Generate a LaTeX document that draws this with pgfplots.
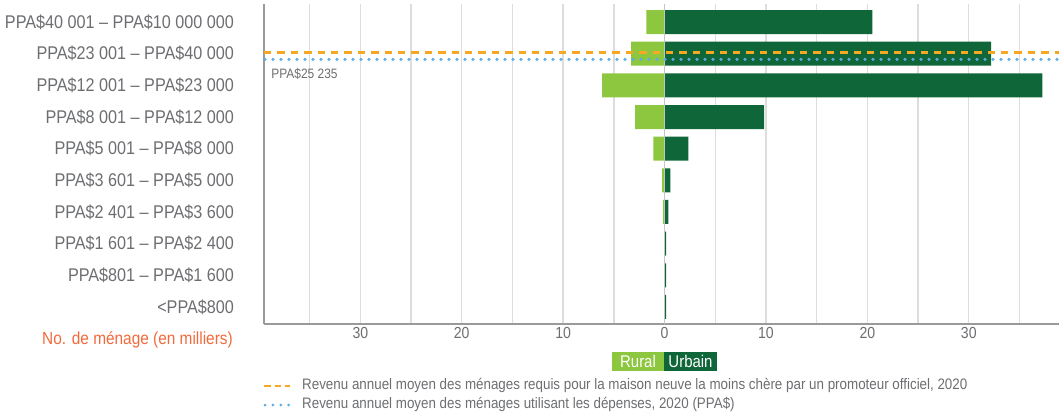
\documentclass[border=0pt]{standalone}
\usepackage{pgfplots}
\pgfplotsset{compat=1.18}
\usepackage{fontspec}
\setmainfont{Liberation Sans}[FakeStretch=0.88]
\definecolor{dkgreen}{HTML}{0F6639}
\definecolor{ltgreen}{HTML}{8DC63F}
\definecolor{orgc}{HTML}{F7A823}
\definecolor{bluc}{HTML}{5DADE2}
\definecolor{txtg}{HTML}{6D6E71}
\definecolor{redo}{HTML}{F26A3C}
\definecolor{gridg}{HTML}{DDDDDD}
\definecolor{axg}{HTML}{9A9A9A}
\definecolor{zerog}{HTML}{C4C4C4}
\begin{document}
\begin{tikzpicture}
\begin{axis}[
  at={(264pt,-324pt)}, anchor=south west,
  scale only axis, width=795pt, height=320pt,
  xmin=-39.5, xmax=38.9, ymin=-0.54, ymax=9.57,
  clip=false,
  axis x line*=bottom, axis y line*=left,
  axis line style={draw=axg, line width=1.2pt, -},
  xtick={-30,-20,...,30}, xticklabels={30,20,10,0,10,20,30},
  minor xtick={-35,-25,...,35},
  xmajorgrids, xminorgrids,
  major grid style={draw=gridg, line width=1.3pt},
  minor grid style={draw=gridg, line width=1.3pt},
  major tick length=0pt, minor tick length=0pt,
  ytick={0,...,9},
  yticklabels={{<PPA\$800},{PPA\$801 – PPA\$1 600},{PPA\$1 601 – PPA\$2 400},{PPA\$2 401 – PPA\$3 600},{PPA\$3 601 – PPA\$5 000},{PPA\$5 001 – PPA\$8 000},{PPA\$8 001 – PPA\$12 000},{PPA\$12 001 – PPA\$23 000},{PPA\$23 001 – PPA\$40 000},{PPA\$40 001 – PPA\$10 000 000}},
  yticklabel style={anchor=east, xshift=-26.5pt, font=\fontsize{18.4}{20}\selectfont, text=txtg},
  xticklabel style={font=\fontsize{16}{18}\selectfont, text=txtg},
  /pgf/number format/assume math mode=true,
]
\addplot[xbar, bar width=24pt, bar shift=0pt, fill=ltgreen, draw=none] coordinates {
(0,0) (-0.03,1) (-0.03,2) (-0.13,3) (-0.25,4) (-1.1,5) (-2.9,6) (-6.15,7) (-3.3,8) (-1.8,9)};
\addplot[xbar, bar width=24pt, bar shift=0pt, fill=dkgreen, draw=none] coordinates {
(0.15,0) (0.15,1) (0.15,2) (0.37,3) (0.57,4) (2.35,5) (9.83,6) (37.25,7) (32.2,8) (20.5,9)};
\draw[zerog, line width=1pt] (axis cs:0,-0.54) -- (axis cs:0,9.57);
\draw[orgc, line width=3pt, dash pattern=on 7.3pt off 6.1pt] (axis cs:-39.5,8.03) -- (axis cs:38.9,8.03);
\draw[bluc, line width=3.5pt, line cap=round, dash pattern=on 0pt off 8pt] (axis cs:-39.4,7.82) -- (axis cs:38.9,7.82);
\node[anchor=west, inner sep=0pt, text=txtg, font=\fontsize{13.6}{15}\selectfont] at (axis cs:-38.8,7.37) {PPA\$25 235};
\end{axis}
\node[anchor=east, inner sep=0pt, text=redo, font=\fontsize{17.5}{20}\selectfont] at (233pt,-340pt) {No. de ménage (en milliers)};
\fill[ltgreen] (612pt,-352pt) rectangle (664pt,-371pt);
\fill[dkgreen] (664pt,-352pt) rectangle (717pt,-371pt);
\node[text=white, inner sep=0pt, font=\fontsize{17}{19}\selectfont] at (638pt,-361.5pt) {Rural};
\node[text=white, inner sep=0pt, font=\fontsize{17}{19}\selectfont] at (690.5pt,-361.5pt) {Urbain};
\draw[orgc, line width=2.5pt, dash pattern=on 6.5pt off 4pt] (264pt,-386pt) -- (290pt,-386pt);
\draw[bluc, line width=3pt, line cap=round, dash pattern=on 0pt off 7.9pt] (265pt,-405pt) -- (291pt,-405pt);
\node[anchor=west, inner sep=0pt, text=txtg, font=\fontsize{15.2}{17}\selectfont] at (302pt,-385.5pt) {Revenu annuel moyen des ménages requis pour la maison neuve la moins chère par un promoteur officiel, 2020};
\node[anchor=west, inner sep=0pt, text=txtg, font=\fontsize{15.2}{17}\selectfont] at (302pt,-404.5pt) {Revenu annuel moyen des ménages utilisant les dépenses, 2020 (PPA\$)};
\pgfresetboundingbox
\path (0pt,0pt) rectangle (1059pt,-416pt);
\end{tikzpicture}
\end{document}
